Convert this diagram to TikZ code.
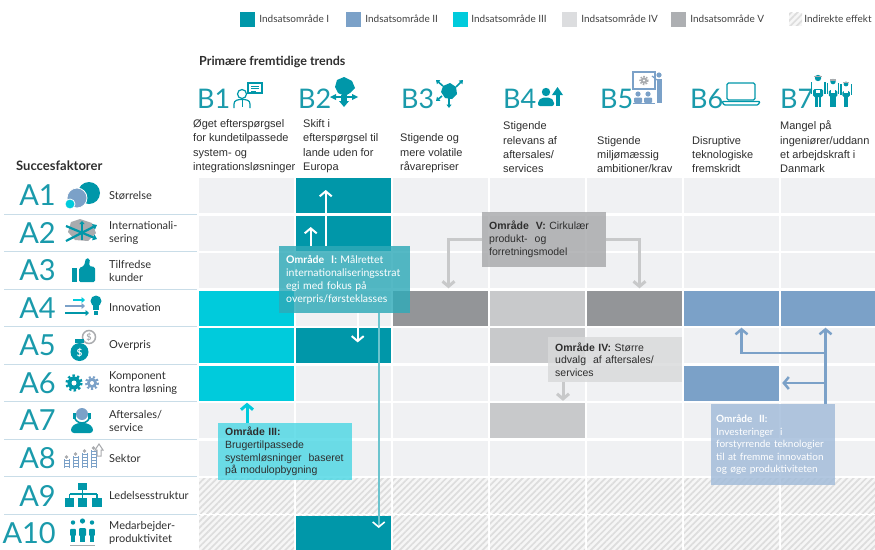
\documentclass[tikz,border=0pt]{standalone}
\usepackage{fontspec}
\setmainfont{Lato}
\newfontfamily\arial{Liberation Sans}
\usepackage{tikz}
\usetikzlibrary{arrows.meta,patterns.meta,positioning}

\definecolor{omrI}{HTML}{0097A9}
\definecolor{omrII}{HTML}{7BA1C8}
\definecolor{omrIII}{HTML}{00CBDC}
\definecolor{omrIV}{HTML}{C8C9CB}
\definecolor{omrV}{HTML}{939598}
\definecolor{legIV}{HTML}{DCDDDF}
\definecolor{legV}{HTML}{ADAFB2}
\definecolor{cellbg}{HTML}{F0F1F3}
\definecolor{hatchbg}{HTML}{F6F6F6}
\definecolor{hatchln}{HTML}{DDDDDD}
\definecolor{numcol}{HTML}{1A9AAB}
\definecolor{txt}{HTML}{2E2E2E}
\definecolor{sepline}{HTML}{C9DDE8}
\definecolor{boxI}{HTML}{2FAAB8}
\definecolor{boxII}{HTML}{A1BBD9}
\definecolor{boxIII}{HTML}{4DD7E4}
\definecolor{boxIV}{HTML}{D8D9DA}
\definecolor{boxV}{HTML}{A7A8AB}
\definecolor{arrgray}{HTML}{C8C9CA}
\definecolor{arrteal}{HTML}{6CC4CE}
\definecolor{icongray}{HTML}{A9ABAE}

\begin{document}
\begin{tikzpicture}[x=1pt,y=-1pt,>={Straight Barb[length=5pt,width=12pt]},
		font=\fontsize{11}{13}\selectfont,text=txt]
		\tikzstyle{cell}=[minimum width=95pt,minimum height=35pt,inner sep=0pt,fill=cellbg]
		\tikzstyle{hatched}=[fill=hatchbg,postaction={pattern={Lines[angle=45,distance=4.5pt,line width=1.7pt]},pattern color=hatchln}]
		\tikzstyle{legsq}=[minimum size=15pt,inner sep=0pt]
		\tikzstyle{legtxt}=[inner sep=0pt,text=black!75,font=\fontsize{10}{12}\selectfont]
		\tikzstyle{bignum}=[inner sep=0pt,text=numcol,font=\fontsize{29}{29}\selectfont]
		\tikzstyle{trend}=[inner sep=0pt,anchor=south west,align=left,font=\arial\fontsize{11}{14.3}\selectfont]
		\tikzstyle{factor}=[inner sep=0pt,anchor=west,align=left]
		\tikzstyle{callout}=[inner sep=7pt,anchor=north west,align=left,fill opacity=0.82,text opacity=1,
			font=\fontsize{10.5}{13}\selectfont]
		\tikzstyle{wArr}=[->,white,line width=2pt]
		\tikzstyle{gArr}=[->,arrgray,line width=3pt]
		\tikzstyle{bArr}=[->,omrII,line width=2.5pt]
		\tikzstyle{icon}=[omrI]

		\useasboundingbox (0,0) rectangle (875,549);

		% legend
		\node[legsq,fill=omrI]   (l1) at (247.5,19) {};
		\node[legtxt,right=4pt of l1] {Indsatsområde I};
		\node[legsq,fill=omrII]  (l2) at (353.5,19) {};
		\node[legtxt,right=4pt of l2] {Indsatsområde II};
		\node[legsq,fill=omrIII] (l3) at (460.5,19) {};
		\node[legtxt,right=3pt of l3] {Indsatsområde III};
		\node[legsq,fill=legIV]  (l4) at (569.5,19) {};
		\node[legtxt,right=4pt of l4] {Indsatsområde IV};
		\node[legsq,fill=legV]   (l5) at (678.5,19) {};
		\node[legtxt,right=4pt of l5] {Indsatsområde V};
		\node[legsq,hatched,minimum size=13pt] (l6) at (795.5,19) {};
		\node[legtxt,right=2pt of l6] {Indirekte effekt};

		% headings
		\node[inner sep=0pt,anchor=west,font=\bfseries\fontsize{12.5}{14}\selectfont] (trends) at (199,62) {Primære fremtidige trends};
		\node[inner sep=0pt,anchor=west,font=\bfseries\fontsize{13}{15}\selectfont] (faktorer) at (16,166) {Succesfaktorer};

		% the grid of cells
		\foreach \i in {1,...,7}
			\foreach \j in {1,...,10}
				\node[cell] (c\i-\j) at ({246.5+97*(\i-1)},{195.5+37.5*(\j-1)}) {};
		\foreach \i in {1,...,7}
			\foreach \j in {9,10}
				\node[cell,hatched] at (c\i-\j) {};
		\foreach \i/\j/\c in {1/4/omrIII,1/5/omrIII,1/6/omrIII,
				2/1/omrI,2/2/omrI,2/5/omrI,2/10/omrI,
				3/4/omrV,5/4/omrV,
				4/4/omrIV,4/5/omrIV,4/7/omrIV,
				6/4/omrII,6/6/omrII,7/4/omrII}
			\node[cell,fill=\c] (k\i-\j) at (c\i-\j) {};

		% success factors down the left
		\foreach \j in {1,...,9}
			\draw[sepline,line width=1pt] (4,{214.3+37.5*(\j-1)}) -- (197,{214.3+37.5*(\j-1)});
		\foreach \j/\t in {1/Størrelse,2/{Internationali-\\sering},3/{Tilfredse\\kunder},4/Innovation,
				5/Overpris,6/{Komponent\\kontra løsning},7/{Aftersales/\\service},8/Sektor,
				9/Ledelsesstruktur,10/{Medarbejder-\\produktivitet}}
		{
			\node[bignum,anchor=east] (a\j) at (56,{195.5+37.5*(\j-1)}) {A\j};
			\node[factor] (f\j) at (109,{195.5+37.5*(\j-1)}) {\t};
		}

		% trends across the top
		\foreach \n/\x/\tx/\t in {1/197/193/{Øget efterspørgsel\\for kundetilpassede\\system- og\\integrationsløsninger},
				2/298/303/{Skift i\\efterspørgsel til\\lande uden for\\Europa},
				3/401/400/{Stigende og\\mere volatile\\råvarepriser},
				4/503/503/{Stigende\\relevans af\\aftersales/\\services},
				5/600/597/{Stigende\\miljømæssig\\ambitioner/krav},
				6/690/692/{Disruptive\\teknologiske\\fremskridt},
				7/780/780/{Mangel på\\ingeniører/uddann\\et arbejdskraft i\\Danmark}}
		{
			\node[bignum,anchor=base west,font=\fontsize{27}{27}\selectfont] (b\n) at (\x,108) {B\n};
			\node[trend] (t\n) at (\tx,173) {\t};
		}

		% icons, success factors
		\fill[omrI] (89,193) circle (11);
		\fill[omrII,draw=white,line width=0.8pt] (77,198) circle (10);
		\fill[omrIII,draw=white,line width=0.8pt] (70,204) circle (5);

		\fill[icongray] (71,222) -- (80,219) -- (92,223) -- (96,233) -- (88,241) -- (75,240) -- (68,232) -- cycle;
		\draw[omrI,line width=2.2pt,-{Triangle[length=4pt,width=6pt]}] (66,241) -- (97,225);
		\draw[omrI,line width=2.2pt,-{Triangle[length=4pt,width=6pt]}] (66,226) -- (97,239);
		\draw[omrI,line width=1.8pt,-{Triangle[length=3pt,width=5pt]}] (82,240) -- (82,221);

		\fill[icon] (72,268) rectangle (77,282);
		\fill[icon,rounded corners=1.5pt] (79,282) -- (79,268) -- (84,266) -- (86,258) -- (90,259) -- (89,266) -- (95,267) -- (95,282) -- cycle;

		\draw[omrIII,line width=1.8pt,-{Triangle[length=3.5pt,width=6pt]}] (73,300) -- (85,300);
		\draw[omrII,line width=1.8pt,-{Triangle[length=3.5pt,width=6pt]}] (65,306) -- (85,306);
		\draw[omrI,line width=1.8pt,-{Triangle[length=3.5pt,width=6pt]}] (65,313) -- (89,313);
		\fill[icon] (96,301) circle (5.5);
		\fill[icon] (93,305) rectangle (99,310);
		\fill[icon] (94,311) rectangle (98,315);

		\draw[icongray,line width=1.5pt] (89,337) circle (6.5);
		\node[inner sep=0pt,text=icongray,font=\bfseries\fontsize{9}{9}\selectfont] at (89,337) {\$};
		\fill[icon] (75,339) rectangle (84,343);
		\fill[icon] (79.5,352) circle (9);
		\node[inner sep=0pt,text=white,font=\bfseries\fontsize{10}{10}\selectfont] at (79.5,353) {\$};

		\fill[icon] (74,383) circle (6.5);
		\draw[icon,line width=2.8pt,dash pattern=on 2.3pt off 2.3pt] (74,383) circle (7.2);
		\fill[white] (74,383) circle (2.5);
		\fill[omrII] (92,383) circle (5);
		\draw[omrII,line width=2.4pt,dash pattern=on 2pt off 2pt] (92,383) circle (5.8);
		\fill[white] (92,383) circle (2);

		\fill[omrII] (82,414) circle (6);
		\draw[icon,line width=1.5pt] (74,415) arc (180:0:8);
		\fill[icon] (73,413) rectangle (76,419);
		\fill[icon] (88,413) rectangle (91,419);
		\fill[icon,rounded corners=3pt] (71,433) -- (71,427) -- (77,423) -- (87,423) -- (93,427) -- (93,433) -- cycle;

		\foreach \k/\h in {0/9,1/12,2/15,3/18}
		{
			\draw[omrII,line width=0.9pt] ({64+9*\k},468) -- ++(0,-\h) ({69+9*\k},468) -- ++(0,-\h);
			\foreach \r in {2,5,...,\h}
				\draw[omrII,line width=0.7pt] ({64+9*\k},468-\r) -- ++(5,0);
			\fill[icongray] ({66.5+9*\k},{466-\h}) circle (1.8);
		}
		\draw[icongray,line width=1pt] (95,450) -- (99,444) -- (103,450) -- (101,450) -- (101,456) -- (97,456) -- (97,450) -- cycle;

		\fill[icon] (78,483) rectangle (87,490);
		\draw[icon,line width=1.2pt] (82.5,490) -- (82.5,494) (69.5,494) -- (97,494) (69.5,494) -- (69.5,498) (82.5,494) -- (82.5,498) (97,494) -- (97,498);
		\fill[icon] (65,498) rectangle (74,507);
		\fill[icon] (78,498) rectangle (87,507);
		\fill[icon] (92,498) rectangle (102,507);

		\foreach \x/\s in {73/0.85,82.5/1,92/0.85}
		{
			\fill[icon] (\x,{531-10*\s}) circle ({2.6*\s});
			\fill[icon,rounded corners=1pt] ({\x-3.5*\s},{534-6*\s}) rectangle ({\x+3.5*\s},536);
			\fill[icon] ({\x-2.2*\s},536) rectangle ({\x+2.2*\s},{541+\s});
		}
		\draw[icongray,line width=0.8pt] (70,545) -- (95,545);

		% icons, trends
		\draw[icon,line width=1.2pt] (248,83) rectangle (262,93);
		\draw[icon,line width=0.9pt] (251,86) -- (259,86) (251,88.5) -- (259,88.5) (251,91) -- (256,91);
		\draw[icon,line width=1.2pt] (242,94) circle (4.5);
		\draw[icon,line width=1.2pt] (234,108) -- (234,104) .. controls (234,100) and (238,99.5) .. (242,99.5) .. controls (246,99.5) and (250,100) .. (250,104) -- (250,108);
		\draw[icon,line width=1pt] (242,100) -- (242,107);

		\fill[icon] (337,80) -- (344,77) -- (352,81) -- (355,88) -- (350,93) -- (345,96) -- (338,93) -- (335,87) -- cycle;
		\fill[icon] (341,95) rectangle (347,101);
		\fill[icon] (339,101) -- (349,101) -- (344,107) -- cycle;
		\fill[icon] (336,94) -- (336,100) -- (330,97) -- cycle;
		\fill[icon] (352,94) -- (352,100) -- (358,97) -- cycle;
		\draw[icon,line width=1.8pt] (336,97) -- (352,97);

		\fill[icon] (443,86) -- (450,83) -- (456,87) -- (457,94) -- (452,99) -- (445,98) -- (441,92) -- cycle;
		\draw[icon,line width=1.6pt,-{Triangle[length=3.5pt,width=5pt]}] (443,86) -- (436,80);
		\draw[icon,line width=1.6pt,-{Triangle[length=3.5pt,width=5pt]}] (456,87) -- (463,80);
		\draw[icon,line width=1.6pt,-{Triangle[length=3.5pt,width=5pt]}] (449,98) -- (449,108);
		\draw[icon,line width=1.6pt,-{Triangle[length=3.5pt,width=5pt]}] (442,96) -- (436,101);

		\fill[icon] (546,92) circle (4.2);
		\fill[icon,rounded corners=2pt] (538,106) -- (538,101) -- (542,97.5) -- (550,97.5) -- (554,101) -- (554,106) -- cycle;
		\fill[icon] (555.5,106) rectangle (559.5,95);
		\fill[icon] (552,95) -- (563,95) -- (557.5,87) -- cycle;

		\draw[omrII,line width=1.3pt] (633,72) rectangle (655,89);
		\fill[icongray] (644,80.5) circle (3.2);
		\draw[icongray,line width=1.8pt,dash pattern=on 1.4pt off 1.4pt] (644,80.5) circle (3.8);
		\fill[white] (644,80.5) circle (1.2);
		\fill[omrII] (659,75) circle (2.6);
		\fill[omrII] (656.5,78.5) rectangle (661.5,103);
		\draw[omrII,line width=1.2pt] (657,80) -- (652,76);
		\foreach \x in {638,648}
		{
			\fill[omrII] (\x,94) circle (2.6);
			\fill[omrII,rounded corners=1pt] (\x-4,103) rectangle (\x+4,97.5);
		}
		\draw[omrII,line width=1.2pt] (633,103.5) -- (655,103.5);

		\draw[icon,line width=1.3pt,rounded corners=1.5pt] (727,83) rectangle (755,100);
		\draw[icon,line width=1.3pt,rounded corners=1pt] (722,101.5) -- (760,101.5) -- (758,105) -- (724,105) -- cycle;

		\foreach \x/\s in {818/1,833/0.85,846/0.75}
		{
			\fill[icon] (\x,{78+6*(1-\s)*4}) circle ({3.2*\s});
			\fill[icongray] ({\x-3.8*\s},{75.5+6*(1-\s)*4}) rectangle ({\x+3.8*\s},{77+6*(1-\s)*4});
			\fill[icon,rounded corners=1.5pt] ({\x-5*\s},{97-8*\s}) rectangle ({\x+5*\s},97);
			\fill[white] ({\x-2.2*\s},{91.5-2*\s}) rectangle ({\x+2.2*\s},{94-\s});
			\fill[icon] ({\x-3*\s},97) rectangle ({\x-0.5*\s},107);
			\fill[icon] ({\x+0.5*\s},97) rectangle ({\x+3*\s},107);
			\fill[icon] ({\x-7.5*\s},{90-8*\s}) rectangle ({\x-6*\s},{97-3*\s});
			\fill[icon] ({\x+6*\s},{90-8*\s}) rectangle ({\x+7.5*\s},{97-3*\s});
		}

		% the five areas of effort
		\node[callout,fill=boxI,text=white,minimum width=131pt,minimum height=67pt,text width=117pt] (o1) at (279,246)
			{\textbf{Område\ \ I:} Målrettet\\internationaliseringsstrat\\egi med fokus på\\overpris/førsteklasses};
		\node[callout,fill=boxV,font=\arial\fontsize{10.5}{13}\selectfont,minimum width=124pt,minimum height=55pt,text width=110pt] (o5) at (482,212)
			{\textbf{Område\ \ V:} Cirkulær\\produkt-\ \ og\\forretningsmodel};
		\node[callout,fill=boxIV,inner ysep=4pt,font=\arial\fontsize{10.5}{12.5}\selectfont,minimum width=134pt,minimum height=45pt,text width=120pt] (o4) at (548,337)
			{\textbf{Område IV:} Større\\udvalg\ \ af aftersales/\\services};
		\node[callout,fill=boxII,text=white,inner xsep=5pt,inner ysep=6pt,font=\fontsize{10}{12.6}\selectfont,minimum width=124pt,minimum height=81pt,text width=114pt] (o2) at (711,404)
			{\textbf{Område\ \ II:}\\Investeringer\ \ i\\forstyrrende teknologier\\til at fremme innovation\\og øge produktiviteten};
		\node[callout,fill=boxIII,inner ysep=4pt,font=\arial\fontsize{10.5}{12.7}\selectfont,minimum width=134pt,minimum height=57pt,text width=120pt] (o3) at (218,423)
			{\textbf{Område III:}\\Brugertilpassede\\systemløsninger\ \ baseret\\på modulopbygning};

		\path[wArr]
			([xshift=-19pt]o1.north) edge +(0,-56)
			([xshift=-34pt]o1.north) edge +(0,-19)
			([xshift=13pt]o1.south) edge +(0,29);
		\draw[arrteal,line width=1.6pt,-{Straight Barb[length=5pt,width=12pt,color=white]}]
			([xshift=34pt]o1.south) -- ([xshift=34pt,yshift=5pt]o1.south |- c2-10.center);

		\draw[gArr,shorten >=2pt] (o5.west) -| ([xshift=8pt]c3-4.north);
		\draw[gArr,shorten >=2pt] (o5.east) -| ([xshift=5pt]c5-4.north);
		\draw[gArr,shorten >=2pt] ([xshift=15pt]o4.south west) -- ([xshift=15pt]o4.south west |- c4-7.north);

		\draw[bArr,shorten >=2pt] ([xshift=-3pt]o2.north -| c7-4.south) -- ([xshift=-3pt]c7-4.south);
		\draw[bArr,shorten >=3pt] ([xshift=-3pt]c7-4.south |- c6-6.east) -- (c6-6.east);
		\draw[bArr,shorten >=2pt] ([xshift=-3pt,yshift=-27.5pt]c7-4.south) -| ([xshift=10pt]c6-4.south);

		\draw[->,omrIII,line width=3pt,shorten >=2pt] ([xshift=29pt]o3.north west) -- ([xshift=29pt]o3.north west |- c1-6.south);
\end{tikzpicture}
\end{document}
